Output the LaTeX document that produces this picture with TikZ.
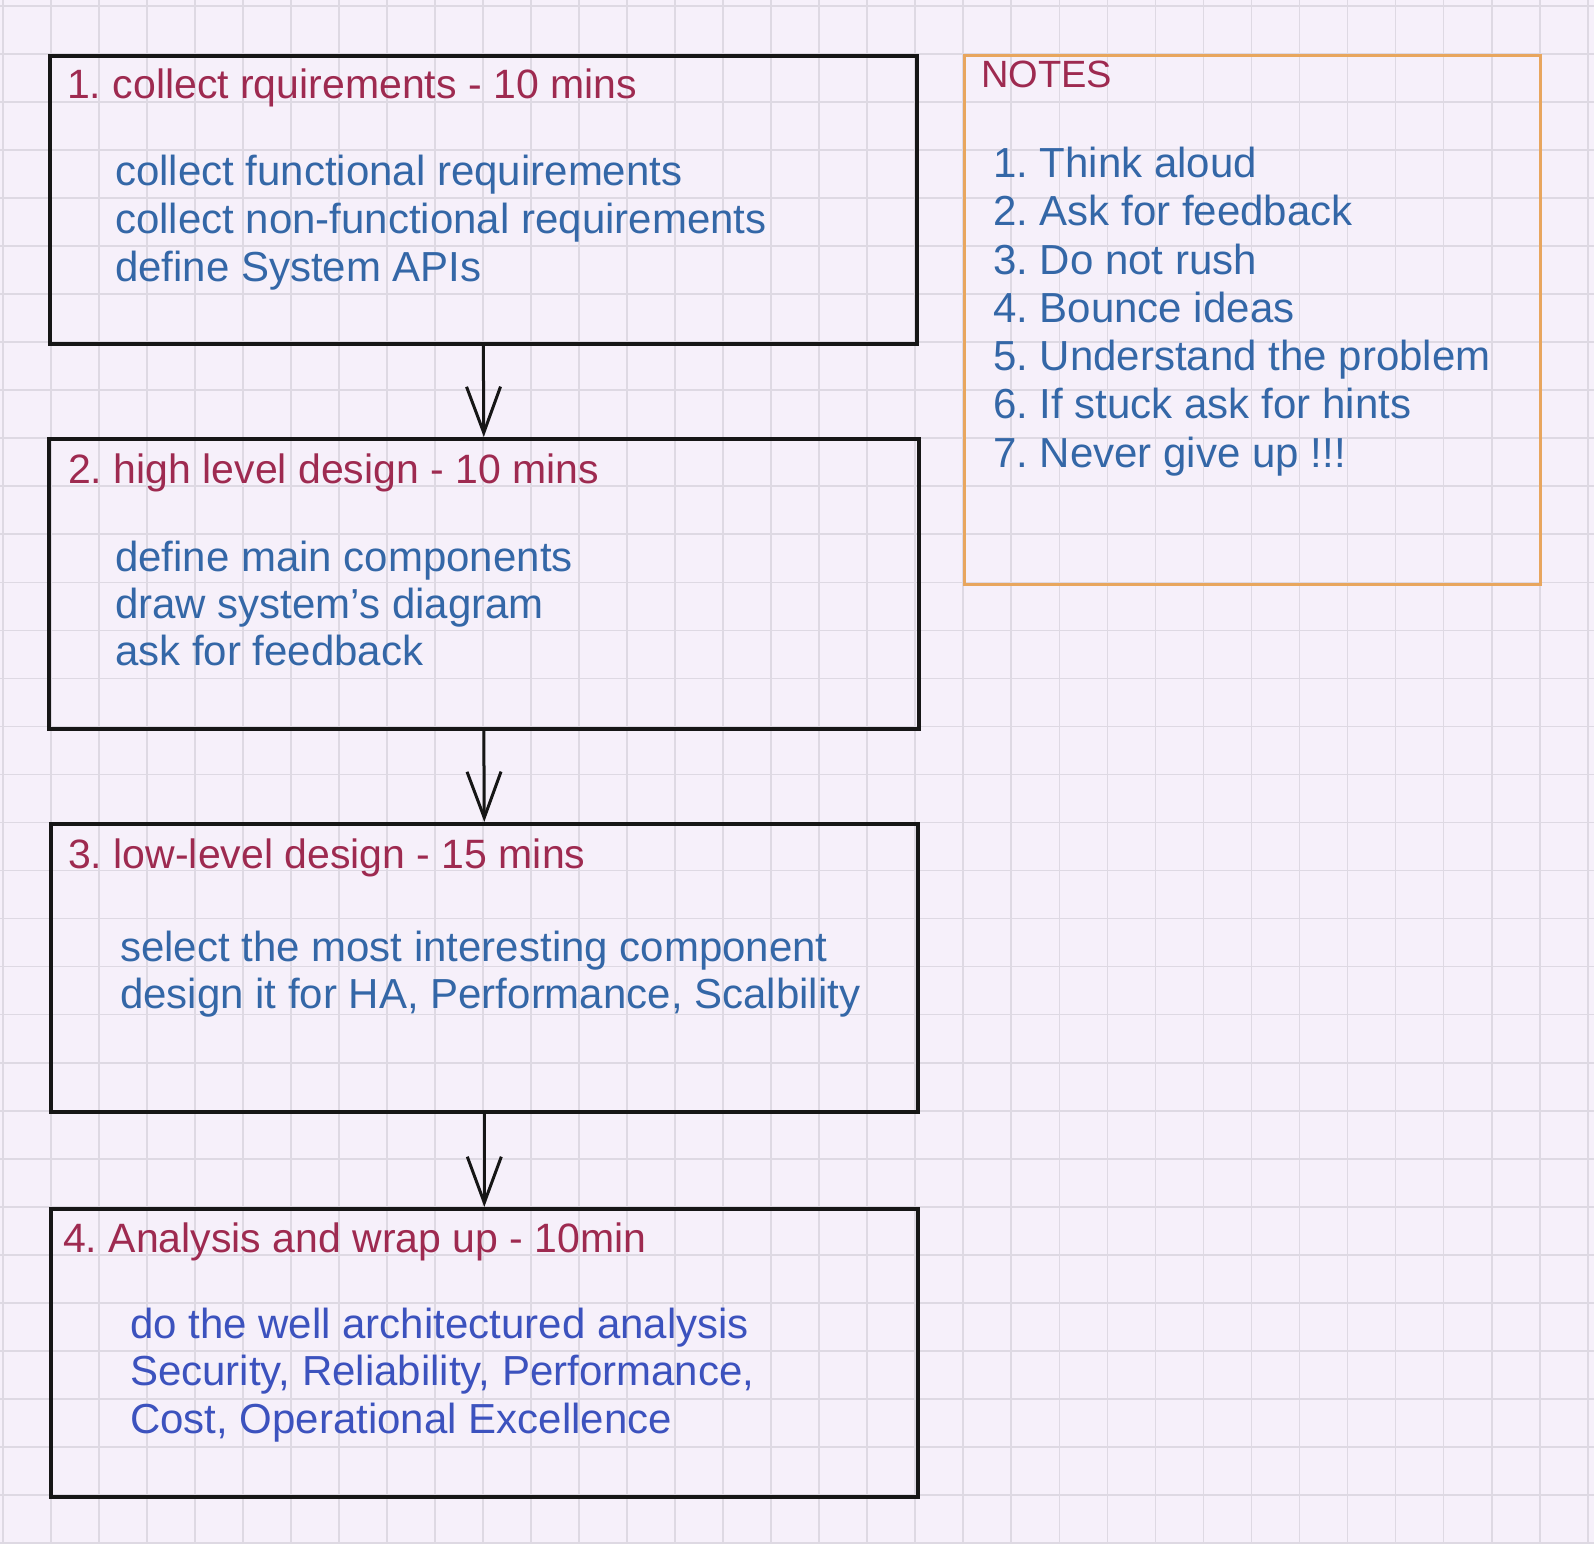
\documentclass[tikz,border=0pt]{standalone}
\usepackage{fontspec}
\setmainfont{Liberation Sans}
\usepackage{tikz}
\usetikzlibrary{arrows.meta}
\frenchspacing
\definecolor{paperbg}{RGB}{246,240,250}
\definecolor{gridline}{RGB}{222,217,227}
\definecolor{titlered}{RGB}{158,42,80}
\definecolor{stepblue}{RGB}{52,103,167}
\definecolor{wrapblue}{RGB}{60,82,190}
\definecolor{noteorange}{RGB}{232,166,94}
\definecolor{inkblack}{RGB}{22,22,22}

\begin{document}
\begin{tikzpicture}[x=1pt,y=-1pt,>={Straight Barb[length=46pt,width=34pt]},
  stagebox/.style={rectangle,draw=inkblack,line width=3.6pt,anchor=north west,inner sep=0pt,minimum width=867pt,minimum height=288pt},
  stagetitle/.style={anchor=base west,inner sep=0pt,text=titlered,font=\fontsize{41}{48}\selectfont},
  stageline/.style={anchor=base west,inner sep=0pt,text=stepblue,font=\fontsize{42}{48}\selectfont},
  flowarrow/.style={->,draw=inkblack,line width=3pt,line cap=round,line join=round}]
\useasboundingbox (0,0) rectangle (1594,1544);
\fill[paperbg] (0,0) rectangle (1594,1544);
% squared paper
\foreach \k in {0,...,33} \draw[gridline,line width=1.7pt] ({2.7+48.03*\k},0) -- ({2.7+48.03*\k},1544);
\foreach \k in {0,...,32} \draw[gridline,line width=1.7pt] (0,{6+48.03*\k}) -- (1594,{6+48.03*\k});

% stages
\node[stagebox] (s1) at (48,54) {};
\node[stagebox,minimum width=870pt,minimum height=290pt] (s2) at (47,437) {};
\node[stagebox] (s3) at (49,822) {};
\node[stagebox] (s4) at (49,1207) {};

\node[stagetitle] (s1t) at (67,99) {1. collect rquirements - 10 mins};
\node[stageline] (s1a) at (115,185) {collect functional requirements};
\node[stageline] (s1b) at (115,233) {collect non-functional requirements};
\node[stageline] (s1c) at (115,281) {define System APIs};

\node[stagetitle] (s2t) at (68,483) {2. high level design - 10 mins};
\node[stageline] (s2a) at (115,571) {define main components};
\node[stageline] (s2b) at (115,618) {draw system's diagram};
\node[stageline] (s2c) at (115,665) {ask for feedback};

\node[stagetitle] (s3t) at (68,868) {3. low-level design - 15 mins};
\node[stageline] (s3a) at (120,961) {select the most interesting component};
\node[stageline] (s3b) at (120,1008) {design it for HA, Performance, Scalbility};

\node[stagetitle] (s4t) at (63,1252) {4. Analysis and wrap up - 10min};
\node[stageline,text=wrapblue] (s4a) at (130,1338) {do the well architectured analysis};
\node[stageline,text=wrapblue] (s4b) at (130,1385) {Security, Reliability, Performance,};
\node[stageline,text=wrapblue] (s4c) at (130,1433) {Cost, Operational Excellence};

\draw[flowarrow] (s1.south) -- (s2.north);
\draw[flowarrow] (s2.south) -- (s3.north);
\draw[flowarrow] (s3.south) -- (s4.north);

% notes
\node[rectangle,draw=noteorange,line width=2.8pt,anchor=north west,inner sep=0pt,minimum width=576pt,minimum height=529pt] (notes) at (963,54) {};
\node[stagetitle,font=\fontsize{38}{48}\selectfont] (nt) at (981,88) {NOTES};
\node[stageline] (n1) at (993,177) {1. Think aloud};
\node[stageline] (n2) at (993,225) {2. Ask for feedback};
\node[stageline] (n3) at (993,274) {3. Do not rush};
\node[stageline] (n4) at (993,322) {4. Bounce ideas};
\node[stageline] (n5) at (993,370) {5. Understand the problem};
\node[stageline] (n6) at (993,418) {6. If stuck ask for hints};
\node[stageline] (n7) at (993,467) {7. Never give up !!!};
\end{tikzpicture}
\end{document}
